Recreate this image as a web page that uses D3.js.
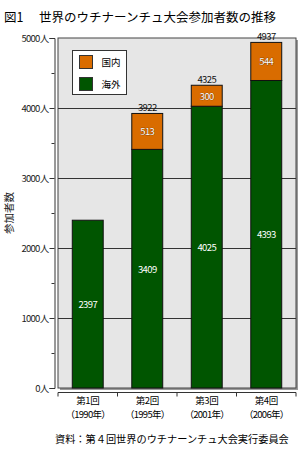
<!DOCTYPE html>
<html>
<head>
<meta charset="utf-8">
<script src="https://cdn.jsdelivr.net/npm/d3@7"></script>
<style>
  body { margin: 0; background: #fff; }
  text { font-family: "Noto Sans CJK JP", sans-serif; }
</style>
</head>
<body>
<svg width="300" height="452"></svg>
<script>
const categories = ['第1回', '第2回', '第3回', '第4回'];
const years = ['（1990年）', '（1995年）', '（2001年）', '（2006年）'];
const overseas = [2397, 3409, 4025, 4393];
const domestic = [0, 513, 300, 544];
const totals = [null, 3922, 4325, 4937];
const yTicks = [0, 1000, 2000, 3000, 4000, 5000];

const svg = d3.select('svg');
const green = '#005500';
const orange = '#d96c00';

const plot = {left: 58, right: 296, top: 38, bottom: 388};

const yScale = d3.scaleLinear()
  .domain([0, 5000])
  .range([plot.bottom, plot.top]);

const xScale = d3.scaleBand()
  .domain(categories)
  .range([plot.left, plot.right])
  .paddingInner(0.48)
  .paddingOuter(0.24);

// title
svg.append('text')
  .attr('x', 4).attr('y', 22)
  .attr('font-size', 12.5)
  .text('図1');
svg.append('text')
  .attr('x', 39).attr('y', 22)
  .attr('font-size', 12.5)
  .text('世界のウチナーンチュ大会参加者数の推移');

// plot background + shadow
svg.append('rect')
  .attr('x', plot.left + 2).attr('y', plot.top + 2)
  .attr('width', plot.right - plot.left).attr('height', plot.bottom - plot.top)
  .attr('fill', '#999');
svg.append('rect')
  .attr('x', plot.left).attr('y', plot.top)
  .attr('width', plot.right - plot.left).attr('height', plot.bottom - plot.top)
  .attr('fill', '#e6e6e6')
  .attr('stroke', '#444')
  .attr('stroke-width', 1);

// gridlines
svg.append('g').selectAll('line')
  .data(yTicks.slice(1, -1))
  .enter().append('line')
    .attr('x1', plot.left).attr('x2', plot.right)
    .attr('y1', d => yScale(d) + 0.5).attr('y2', d => yScale(d) + 0.5)
    .attr('stroke', '#333');

// y axis
const yAxisG = svg.append('g')
  .attr('transform', 'translate(54.5,0)')
  .call(d3.axisLeft(yScale).tickValues(yTicks).tickSize(5).tickFormat(d => d + '人'));
yAxisG.selectAll('.domain').attr('stroke', '#333');
yAxisG.selectAll('.tick line').attr('stroke', '#333');
yAxisG.selectAll('.tick text')
  .attr('font-family', '"Noto Sans CJK JP", sans-serif')
  .attr('font-size', 9.5)
  .attr('letter-spacing', -0.7)
  .attr('x', -6)
  .attr('fill', '#222');
yAxisG.append('g').selectAll('line')
  .data([500, 1500, 2500, 3500, 4500])
  .enter().append('line')
    .attr('x1', -3).attr('x2', 0)
    .attr('y1', d => yScale(d) + 0.5).attr('y2', d => yScale(d) + 0.5)
    .attr('stroke', '#333');

svg.append('text')
  .attr('transform', `translate(13,${(plot.top + plot.bottom) / 2}) rotate(-90)`)
  .attr('text-anchor', 'middle')
  .attr('font-size', 10.5)
  .attr('fill', '#222')
  .text('参加者数');

// x axis
const xAxisG = svg.append('g')
  .attr('transform', 'translate(0,392.5)');
xAxisG.append('line')
  .attr('x1', plot.left).attr('x2', plot.right)
  .attr('stroke', '#333');
xAxisG.selectAll('.sep')
  .data(d3.range(categories.length + 1))
  .enter().append('line')
    .attr('x1', i => plot.left + i * xScale.step()).attr('x2', i => plot.left + i * xScale.step())
    .attr('y1', 0).attr('y2', 4)
    .attr('stroke', '#333');
xAxisG.selectAll('.cat')
  .data(categories)
  .enter().append('text')
    .attr('x', d => xScale(d) + xScale.bandwidth() / 2)
    .attr('y', 11)
    .attr('text-anchor', 'middle')
    .attr('font-size', 9.5)
    .attr('letter-spacing', -0.5)
    .text(d => d);
xAxisG.selectAll('.yr')
  .data(categories)
  .enter().append('text')
    .attr('x', d => xScale(d) + xScale.bandwidth() / 2)
    .attr('y', 25)
    .attr('text-anchor', 'middle')
    .attr('font-size', 9.5)
    .attr('letter-spacing', -0.7)
    .text((d, i) => years[i]);

// bars
const bars = svg.append('g').selectAll('g')
  .data(categories)
  .enter().append('g');

bars.append('rect')
  .attr('x', d => xScale(d))
  .attr('y', (d, i) => yScale(overseas[i]))
  .attr('width', xScale.bandwidth())
  .attr('height', (d, i) => yScale(0) - yScale(overseas[i]))
  .attr('fill', green)
  .attr('stroke', '#111');

bars.filter((d, i) => domestic[i] > 0).append('rect')
  .attr('x', d => xScale(d))
  .attr('y', d => yScale(overseas[categories.indexOf(d)] + domestic[categories.indexOf(d)]))
  .attr('width', xScale.bandwidth())
  .attr('height', d => {
    const i = categories.indexOf(d);
    return yScale(overseas[i]) - yScale(overseas[i] + domestic[i]);
  })
  .attr('fill', orange)
  .attr('stroke', '#111');

// value labels
bars.append('text')
  .attr('x', d => xScale(d) + xScale.bandwidth() / 2)
  .attr('y', (d, i) => yScale(overseas[i] / 2) + 4)
  .attr('text-anchor', 'middle')
  .attr('font-size', 9.5)
  .attr('letter-spacing', -0.6)
  .attr('fill', '#fff')
  .text((d, i) => overseas[i]);

bars.filter((d, i) => domestic[i] > 0).append('text')
  .attr('x', d => xScale(d) + xScale.bandwidth() / 2)
  .attr('y', d => {
    const i = categories.indexOf(d);
    return yScale(overseas[i] + domestic[i] / 2) + 4;
  })
  .attr('text-anchor', 'middle')
  .attr('font-size', 9.5)
  .attr('letter-spacing', -0.6)
  .attr('fill', '#fff')
  .attr('stroke', '#5a2a00')
  .attr('stroke-width', 0.5)
  .attr('paint-order', 'stroke')
  .text(d => domestic[categories.indexOf(d)]);

bars.filter((d, i) => totals[i] !== null).append('text')
  .attr('x', d => xScale(d) + xScale.bandwidth() / 2)
  .attr('y', d => yScale(totals[categories.indexOf(d)]) - 2)
  .attr('text-anchor', 'middle')
  .attr('font-size', 9.5)
  .attr('letter-spacing', -0.6)
  .attr('fill', '#111')
  .text(d => totals[categories.indexOf(d)]);

// legend
const legend = svg.append('g').attr('transform', 'translate(72.5,50.5)');
legend.append('rect')
  .attr('width', 54).attr('height', 44)
  .attr('fill', '#fff')
  .attr('stroke', '#333');
const legendItems = [{label: '国内', color: orange}, {label: '海外', color: green}];
legend.selectAll('.item')
  .data(legendItems)
  .enter().append('rect')
    .attr('x', 7).attr('y', (d, i) => 5 + i * 22)
    .attr('width', 13).attr('height', 13)
    .attr('fill', d => d.color)
    .attr('stroke', '#333');
legend.selectAll('.lbl')
  .data(legendItems)
  .enter().append('text')
    .attr('x', 29).attr('y', (d, i) => 15 + i * 22)
    .attr('font-size', 9.5)
    .text(d => d.label);

// source
svg.append('text')
  .attr('x', 55).attr('y', 443)
  .attr('font-size', 10.2)
  .text('資料：第４回世界のウチナーンチュ大会実行委員会');
</script>
</body>
</html>
